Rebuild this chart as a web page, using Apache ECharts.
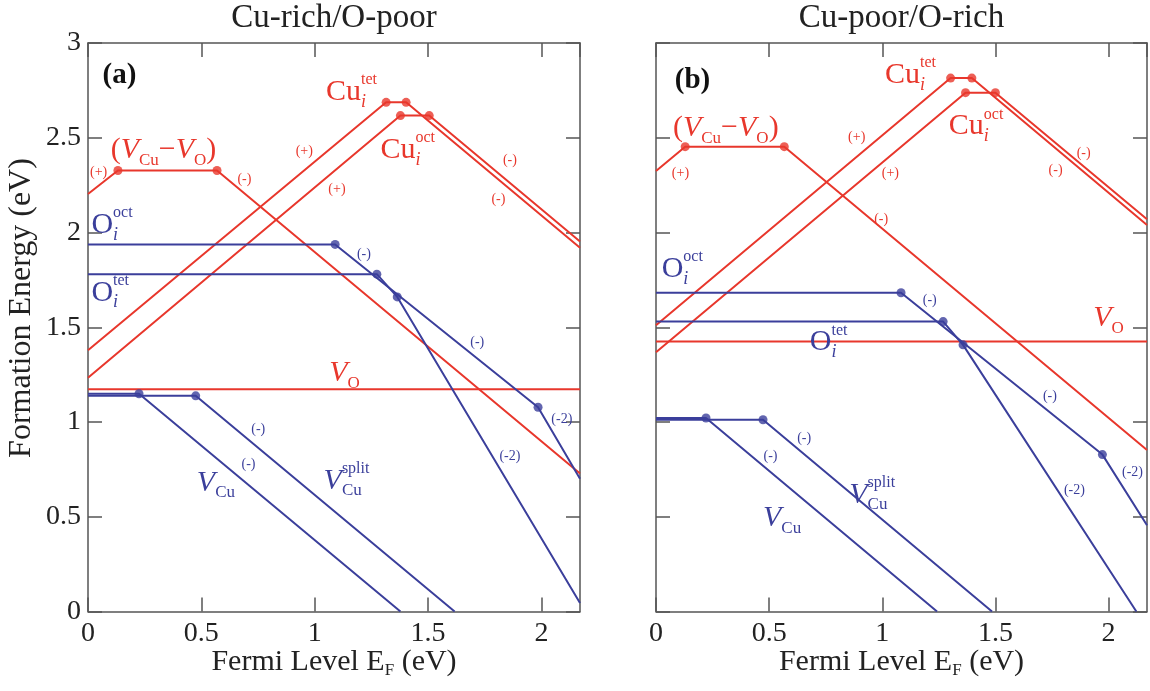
<!DOCTYPE html>
<html>
<head>
<meta charset="utf-8">
<script src="https://cdn.jsdelivr.net/npm/echarts@6/dist/echarts.min.js"></script>
<style>
  html, body { margin: 0; padding: 0; background: #fff; }
  #chart { width: 1150px; height: 691px; }
</style>
</head>
<body>
<div id="chart"></div>
<script>
// ---------------- data (Fermi level eV, formation energy eV) ----------------
const panelTitles = ['Cu-rich/O-poor', 'Cu-poor/O-rich'];
const panelTags = ['(a)', '(b)'];
const xTickLabels = ['0', '0.5', '1', '1.5', '2'];
const yTickLabels = ['0', '0.5', '1', '1.5', '2', '2.5', '3'];

// panel (a) Cu-rich/O-poor
const aVCuVO    = [[0, 2.203], [0.132, 2.327], [0.569, 2.327], [2.17, 0.728]];
const aCuTet    = [[0, 1.379], [1.315, 2.687], [1.403, 2.687], [2.17, 1.920]];
const aCuOct    = [[0, 1.234], [1.378, 2.617], [1.505, 2.617], [2.17, 1.952]];
const aVO       = [[0, 1.173], [2.17, 1.173]];
const aOOct     = [[0, 1.937], [1.09, 1.937], [1.985, 1.078], [2.17, 0.700]];
const aOTet     = [[0, 1.780], [1.274, 1.780], [1.364, 1.660], [2.17, 0.045]];
const aVCu      = [[0, 1.149], [0.225, 1.149], [1.378, 0]];
const aVCuSplit = [[0, 1.138], [0.475, 1.138], [1.617, 0]];

// panel (b) Cu-poor/O-rich
const bVCuVO    = [[0, 2.325], [0.129, 2.453], [0.567, 2.453], [2.17, 0.852]];
const bCuTet    = [[0, 1.510], [1.302, 2.815], [1.396, 2.815], [2.17, 2.040]];
const bCuOct    = [[0, 1.368], [1.368, 2.738], [1.500, 2.738], [2.17, 2.070]];
const bVO       = [[0, 1.425], [2.17, 1.425]];
const bOOct     = [[0, 1.682], [1.083, 1.682], [1.973, 0.828], [2.17, 0.455]];
const bOTet     = [[0, 1.530], [1.269, 1.530], [1.357, 1.407], [2.123, 0]];
const bVCu      = [[0, 1.021], [0.221, 1.021], [1.242, 0]];
const bVCuSplit = [[0, 1.012], [0.473, 1.012], [1.485, 0]];

const RED = '#e8372c';
const BLUE = '#3b3f9b';
const panels = [
  { red: [aVCuVO, aCuTet, aCuOct, aVO], blue: [aOOct, aOTet, aVCu, aVCuSplit] },
  { red: [bVCuVO, bCuTet, bCuOct, bVO], blue: [bOOct, bOTet, bVCu, bVCuSplit] }
];

// annotation labels: [panel, x, y, tokens, colour]
const FONT = '"Liberation Serif", "Times New Roman", serif';
const M = 30, S = 17;
const sub = (t, it) => ({ t, s: S, dy: 10, it });
const sup = (t) => ({ t, s: 16, dy: -12 });
const chg = (p, x, y, t, c) => [p, x, y, [{ t, s: 14 }], c, 'center'];
const vcuvo = [{ t: '(' }, { t: 'V', it: true }, sub('Cu'), { t: '\u2212' }, { t: 'V', it: true }, sub('O'), { t: ')' }];
const cuTet = [{ t: 'Cu' }, sup('tet'), Object.assign(sub('i', true), { stack: true, s: 18 })];
const cuOct = [{ t: 'Cu' }, sup('oct'), Object.assign(sub('i', true), { stack: true, s: 18 })];
const oOct = [{ t: 'O' }, sup('oct'), Object.assign(sub('i', true), { stack: true, s: 18 })];
const oTet = [{ t: 'O' }, sup('tet'), Object.assign(sub('i', true), { stack: true, s: 18 })];
const vO = [{ t: 'V', it: true }, sub('O')];
const vCu = [{ t: 'V', it: true }, sub('Cu')];
const vCuSplit = [{ t: 'V', it: true }, sup('split'), Object.assign(sub('Cu'), { stack: true })];

const labels = [
  [0, 0.064, 2.83, [{ t: '(a)', b: true, s: 29 }], '#111'],
  [0, 0.10, 2.435, vcuvo, RED],
  [0, 1.05, 2.74, cuTet, RED],
  [0, 1.29, 2.435, cuOct, RED],
  chg(0, 0.047, 2.32, '(+)', RED),
  chg(0, 0.69, 2.278, '(-)', RED),
  chg(0, 0.954, 2.427, '(+)', RED),
  chg(0, 1.098, 2.226, '(+)', RED),
  chg(0, 1.861, 2.383, '(-)', RED),
  chg(0, 1.81, 2.173, '(-)', RED),
  [0, 0.015, 2.04, oOct, BLUE],
  [0, 0.015, 1.682, oTet, BLUE],
  chg(0, 1.217, 1.886, '(-)', BLUE),
  chg(0, 1.717, 1.423, '(-)', BLUE),
  [0, 1.064, 1.257, vO, RED],
  chg(0, 2.09, 1.012, '(-2)', BLUE),
  chg(0, 1.861, 0.82, '(-2)', BLUE),
  chg(0, 0.751, 0.96, '(-)', BLUE),
  [0, 0.48, 0.68, vCu, BLUE],
  chg(0, 0.708, 0.776, '(-)', BLUE),
  [0, 1.039, 0.69, vCuSplit, BLUE],

  [1, 0.083, 2.80, [{ t: '(b)', b: true, s: 29 }], '#111'],
  [1, 0.075, 2.55, vcuvo, RED],
  [1, 1.012, 2.83, cuTet, RED],
  [1, 1.294, 2.56, cuOct, RED],
  chg(1, 0.108, 2.31, '(+)', RED),
  chg(1, 0.887, 2.50, '(+)', RED),
  chg(1, 1.036, 2.31, '(+)', RED),
  chg(1, 1.89, 2.42, '(-)', RED),
  chg(1, 1.766, 2.33, '(-)', RED),
  chg(1, 0.995, 2.07, '(-)', RED),
  [1, 0.025, 1.807, oOct, BLUE],
  [1, 0.68, 1.42, oTet, BLUE],
  [1, 1.932, 1.547, vO, RED],
  chg(1, 1.21, 1.644, '(-)', BLUE),
  chg(1, 1.741, 1.135, '(-)', BLUE),
  chg(1, 0.655, 0.916, '(-)', BLUE),
  chg(1, 0.506, 0.82, '(-)', BLUE),
  chg(1, 1.849, 0.637, '(-2)', BLUE),
  chg(1, 2.106, 0.733, '(-2)', BLUE),
  [1, 0.854, 0.616, vCuSplit, BLUE],
  [1, 0.473, 0.493, vCu, BLUE]
];

// ---------------- chart ----------------
const chart = echarts.init(document.getElementById('chart'), null, { renderer: 'canvas' });
const AX = '#555';
const grids = [
  { left: 88, top: 43, width: 492, height: 568.5 },
  { left: 656, top: 43, width: 491, height: 568.5 }
];
function xAxis(gi, pos, show) {
  return {
    type: 'value', gridIndex: gi, position: pos, min: 0, max: 2.17, interval: 0.5,
    axisLine: { show: true, onZero: false, lineStyle: { color: AX, width: 1.5 } },
    axisTick: { show: true, inside: true, length: 14, lineStyle: { color: AX, width: 1.5 } },
    axisLabel: { show: show, showMaxLabel: false, margin: 8, color: '#222', fontFamily: FONT, fontSize: 28,
      formatter: v => xTickLabels[Math.round(v * 2)] || '' },
    splitLine: { show: false }
  };
}
function yAxis(gi, pos, show) {
  return {
    type: 'value', gridIndex: gi, position: pos, min: 0, max: 3, interval: 0.5,
    axisLine: { show: true, onZero: false, lineStyle: { color: AX, width: 1.5 } },
    axisTick: { show: true, inside: true, length: 14, lineStyle: { color: AX, width: 1.5 } },
    axisLabel: { show: show, margin: 7, color: '#222', fontFamily: FONT, fontSize: 28,
      formatter: v => yTickLabels[Math.round(v * 2)] || '' },
    splitLine: { show: false }
  };
}

const series = [];
panels.forEach((p, gi) => {
  const add = (arr, color) => {
    series.push({
      type: 'line', xAxisIndex: gi * 2, yAxisIndex: gi * 2, data: arr,
      symbol: 'none', lineStyle: { color, width: 2 }, silent: true, clip: true, z: 2
    });
    series.push({
      type: 'scatter', xAxisIndex: gi * 2, yAxisIndex: gi * 2, data: arr.slice(1, -1),
      symbol: 'circle', symbolSize: 9, itemStyle: { color }, silent: true, z: 3
    });
  };
  p.red.forEach(a => add(a, RED));
  p.blue.forEach(a => add(a, BLUE));
});

chart.setOption({
  animation: false,
  backgroundColor: '#fff',
  grid: grids,
  xAxis: [xAxis(0, 'bottom', true), xAxis(0, 'top', false), xAxis(1, 'bottom', true), xAxis(1, 'top', false)],
  yAxis: [yAxis(0, 'left', true), yAxis(0, 'right', false), yAxis(1, 'left', false), yAxis(1, 'right', false)],
  series
});

// ---------------- text annotations ----------------
const cv = document.createElement('canvas').getContext('2d');
function fontStr(tk) {
  return (tk.it ? 'italic ' : '') + (tk.b ? 'bold ' : '') + (tk.s || M) + 'px ' + FONT;
}
function measure(tk) { cv.font = fontStr(tk); return cv.measureText(tk.t).width; }
function tokenWidth(tokens) {
  let cx = 0, lastStart = 0;
  tokens.forEach(tk => {
    const w = measure(tk);
    if (tk.stack) { cx = Math.max(cx, lastStart + w); }
    else { lastStart = cx; cx += w; }
  });
  return cx;
}
function placeTokens(out, px, py, tokens, color, align) {
  let cx = px;
  if (align === 'center') cx = px - tokenWidth(tokens) / 2;
  let lastStart = cx;
  tokens.forEach(tk => {
    const w = measure(tk);
    const sx = tk.stack ? lastStart : cx;
    out.push({
      type: 'text', x: sx, y: py + (tk.dy || 0), silent: true, z: 10,
      style: {
        text: tk.t, fill: color, fontFamily: FONT, fontSize: tk.s || M,
        fontStyle: tk.it ? 'italic' : 'normal', fontWeight: tk.b ? 'bold' : 'normal',
        align: 'left', verticalAlign: 'middle'
      }
    });
    if (tk.stack) { cx = Math.max(cx, sx + w); }
    else { lastStart = cx; cx += w; }
  });
}

const gfx = [];
labels.forEach(([gi, x, y, tokens, color, align]) => {
  const [px, py] = chart.convertToPixel({ xAxisIndex: gi * 2, yAxisIndex: gi * 2 }, [x, y]);
  placeTokens(gfx, px, py, tokens, color, align);
});
// titles and axis names
grids.forEach((g, gi) => {
  const cx = g.left + g.width / 2;
  placeTokens(gfx, cx, 18, [{ t: panelTitles[gi], s: 33 }], '#222', 'center');
  placeTokens(gfx, cx, 662, [{ t: 'Fermi Level E', s: 30 }, { t: 'F', s: 17, dy: 9 }, { t: ' (eV)', s: 30 }], '#222', 'center');
});
gfx.push({
  type: 'text', x: 22, y: 308, rotation: Math.PI / 2, silent: true,
  style: { text: 'Formation Energy (eV)', fill: '#222', fontFamily: FONT, fontSize: 32, align: 'center', verticalAlign: 'middle' }
});
chart.setOption({ graphic: { elements: gfx } });
</script>
</body>
</html>
